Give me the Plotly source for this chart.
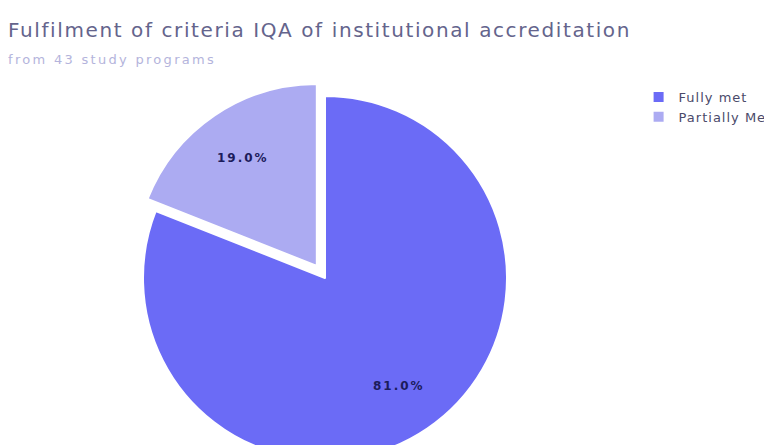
import math
import plotly.graph_objects as go

labels = ["Fully met", "Partially Met"]
values = [81, 19]
colors = ["#6b6bf6", "#acabf2"]
pulls = [0, 0.08]

title = "Fulfilment of criteria IQA of institutional accreditation"
subtitle = "from 43 study programs"

W, H = 772, 490
cx, cy, R = 317, 270, 182
half = R * (1 + max(pulls))
FONT = "DejaVu Sans, Verdana, sans-serif"


def spaced(t, px):
    return f'<span style="letter-spacing:{px}px">{t}</span>'


fig = go.Figure(go.Pie(
    labels=[spaced(l, 1) for l in labels],
    values=values,
    sort=False,
    direction="clockwise",
    rotation=0,
    pull=pulls,
    marker=dict(colors=colors, line=dict(color="white", width=2)),
    textinfo="none",
    domain=dict(x=[(cx - half) / W, (cx + half) / W],
                y=[1 - (cy + half) / H, 1 - (cy - half) / H]),
    hoverinfo="label+percent",
))

# percentage labels placed along each slice bisector
anns = []
total = sum(values)
cum = 0
for v, p in zip(values, pulls):
    mid = (cum + v / 2) / total * 2 * math.pi
    cum += v
    dx, dy = math.sin(mid), -math.cos(mid)
    rr = 0.72 * R + p * R
    px_, py_ = cx + dx * rr, cy + dy * rr
    anns.append(dict(text="<b>" + spaced(f"{v / total * 100:.1f}%", 2) + "</b>",
                     x=px_ / W, y=1 - py_ / H, xref="paper", yref="paper",
                     showarrow=False, xanchor="center", yanchor="middle",
                     font=dict(size=12, color="#1c1c5c", family=FONT)))

anns.append(dict(text=spaced(title, 1.6), x=-2 / W, y=1 - 22 / H,
                 xref="paper", yref="paper", xanchor="left", yanchor="middle",
                 showarrow=False, font=dict(size=20, color="#64648c", family=FONT)))
anns.append(dict(text=spaced(subtitle, 2.3), x=-2 / W, y=1 - 52 / H,
                 xref="paper", yref="paper", xanchor="left", yanchor="middle",
                 showarrow=False, font=dict(size=13, color="#b4b4dc", family=FONT)))

fig.update_layout(
    width=W, height=H,
    margin=dict(l=0, r=0, t=0, b=0),
    paper_bgcolor="white",
    font=dict(family=FONT),
    legend=dict(x=630.6 / W, y=1 - 74 / H, xanchor="left", yanchor="top",
                font=dict(size=13, color="#4a4a6a"), bgcolor="rgba(0,0,0,0)"),
    annotations=anns,
)

fig.write_html("out.html")
